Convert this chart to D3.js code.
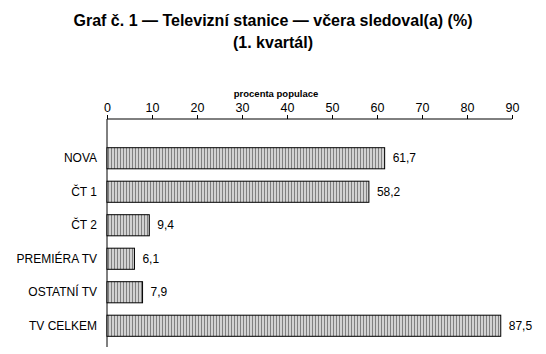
<!DOCTYPE html>
<html>
<head>
<meta charset="utf-8">
<script src="https://cdn.jsdelivr.net/npm/d3@7"></script>
<style>
  body { margin: 0; background: #fff; }
  text { font-family: "Liberation Sans", Arial, sans-serif; fill: #000; }
</style>
</head>
<body>
<div class="container"></div>
<script>
const WIDTH = 546;
const HEIGHT = 354;

const categories = ["NOVA", "ČT 1", "ČT 2", "PREMIÉRA TV", "OSTATNÍ TV", "TV CELKEM"];
const values = [61.7, 58.2, 9.4, 6.1, 7.9, 87.5];
const ticks = [0, 10, 20, 30, 40, 50, 60, 70, 80, 90];

const AXIS_Y = 119;
const LEFT = 107;

var xScale = d3.scaleLinear()
    .domain([0, 90])
    .range([LEFT, 512]);

var yScale = d3.scaleBand()
    .domain(categories)
    .range([141, 343])
    .paddingInner(0.37)
    .paddingOuter(0.2);

var fmt = function(v){ return String(v).replace(".", ","); };

var svg = d3.select(".container").append("svg")
    .attr("width", WIDTH)
    .attr("height", HEIGHT);

// striped fill
var pat = svg.append("defs").append("pattern")
    .attr("id", "stripes")
    .attr("patternUnits", "userSpaceOnUse")
    .attr("width", 3)
    .attr("height", 4);
pat.append("rect").attr("width", 3).attr("height", 4).attr("fill", "#d2d2d2");
pat.append("rect").attr("width", 1).attr("height", 4).attr("fill", "#808080");

// title
svg.append("text")
    .attr("x", 273).attr("y", 26)
    .attr("text-anchor", "middle")
    .style("font-size", "16px").style("font-weight", "bold")
    .text("Graf č. 1 — Televizní stanice — včera sledoval(a) (%)");
svg.append("text")
    .attr("x", 273).attr("y", 48)
    .attr("text-anchor", "middle")
    .style("font-size", "16px").style("font-weight", "bold")
    .text("(1. kvartál)");

// axis title
svg.append("text")
    .attr("x", 276).attr("y", 97)
    .attr("text-anchor", "middle")
    .style("font-size", "9.5px").style("font-weight", "bold")
    .text("procenta populace");

// top axis
var xAxis = d3.axisTop(xScale).tickValues(ticks).tickSize(4).tickPadding(3);
var gx = svg.append("g")
    .attr("transform", "translate(0," + AXIS_Y + ")")
    .call(xAxis);
gx.select(".domain").attr("d", "M" + LEFT + ",0H" + xScale(90)).attr("stroke", "#000");
gx.selectAll("text").style("font-size", "12.5px").style("font-family", "Liberation Sans, Arial, sans-serif");

// left line
svg.append("line")
    .attr("x1", LEFT).attr("x2", LEFT)
    .attr("y1", AXIS_Y).attr("y2", 347)
    .attr("stroke", "#000");

// bars
svg.append("g").selectAll("rect")
    .data(values)
    .enter().append("rect")
    .attr("x", xScale(0))
    .attr("y", function(d, i){ return yScale(categories[i]); })
    .attr("width", function(d){ return xScale(d) - xScale(0); })
    .attr("height", yScale.bandwidth())
    .attr("fill", "url(#stripes)")
    .attr("stroke", "#000")
    .attr("stroke-width", 1);

// value labels
svg.append("g").selectAll("text")
    .data(values)
    .enter().append("text")
    .attr("x", function(d){ return xScale(d) + 8; })
    .attr("y", function(d, i){ return yScale(categories[i]) + yScale.bandwidth() / 2; })
    .attr("dy", "0.35em")
    .style("font-size", "12px")
    .text(fmt);

// category labels
svg.append("g").selectAll("text")
    .data(categories)
    .enter().append("text")
    .attr("x", 97)
    .attr("y", function(d){ return yScale(d) + yScale.bandwidth() / 2; })
    .attr("dy", "0.35em")
    .attr("text-anchor", "end")
    .style("font-size", "12px")
    .text(function(d){ return d; });
</script>
</body>
</html>
